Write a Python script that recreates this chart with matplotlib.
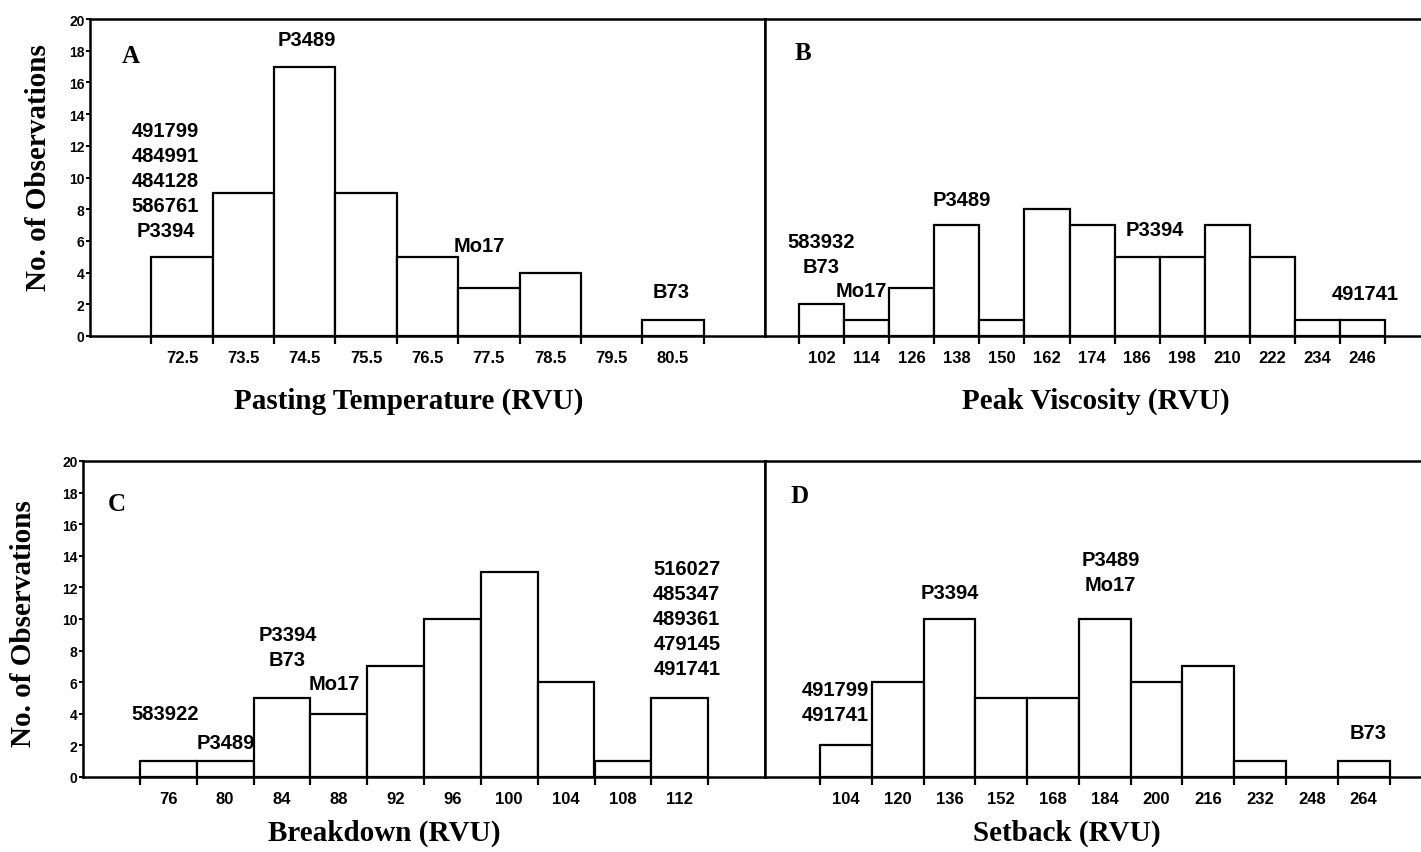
import matplotlib.pyplot as plt
from matplotlib import font_manager

# histogram bins (centres) and counts
temp_bins = [72.5, 73.5, 74.5, 75.5, 76.5, 77.5, 78.5, 79.5, 80.5]
temp_counts = [5, 9, 17, 9, 5, 3, 4, 0, 1]

visc_bins = [102, 114, 126, 138, 150, 162, 174, 186, 198, 210, 222, 234, 246]
visc_counts = [2, 1, 3, 7, 1, 8, 7, 5, 5, 7, 5, 1, 1]

brk_bins = [76, 80, 84, 88, 92, 96, 100, 104, 108, 112]
brk_counts = [1, 1, 5, 4, 7, 10, 13, 6, 1, 5]

setb_bins = [104, 120, 136, 152, 168, 184, 200, 216, 232, 248, 264]
setb_counts = [2, 6, 10, 5, 5, 10, 6, 7, 1, 0, 1]

# genotype labels written in each panel
temp_notes = ["491799\n484991\n484128\n586761\nP3394", "P3489", "Mo17", "B73"]
visc_notes = ["583932\nB73", "Mo17", "P3489", "P3394", "491741"]
brk_notes = ["583922", "P3489", "P3394\nB73", "Mo17",
             "516027\n485347\n489361\n479145\n491741"]
setb_notes = ["491799\n491741", "P3394", "P3489\nMo17", "B73"]

names = {f.name for f in font_manager.fontManager.ttflist}
narrow = "Liberation Sans Narrow" if "Liberation Sans Narrow" in names else "Liberation Sans"
serif = "Liberation Serif"

W, H = 1421, 853
fig = plt.figure(figsize=(W / 100, H / 100), dpi=100)


def box(l, r, t, b):
    return [l / W, 1 - b / H, (r - l) / W, (b - t) / H]


def hist(ax, bins, counts, width, xlim, fmt):
    ax.bar(bins, counts, width=width, facecolor="white", edgecolor="black",
           linewidth=1.6, zorder=3)
    ax.set_xlim(*xlim)
    ax.set_ylim(0, 20)
    edges = [b - width / 2 for b in bins] + [bins[-1] + width / 2]
    ax.set_xticks(edges)
    ax.set_xticklabels([])
    ax.set_xticks(bins, minor=True)
    ax.set_xticklabels([fmt(b) for b in bins], minor=True,
                       family=narrow, fontweight="bold", fontsize=12)
    ax.tick_params(axis="x", which="major", direction="out", length=6, width=1.6)
    ax.tick_params(axis="x", which="minor", length=0, pad=10)
    for s in ax.spines.values():
        s.set_linewidth(1.8)


def yaxis(ax, show, lx, ly):
    ax.set_yticks(range(0, 21, 2))
    if show:
        ax.set_yticklabels([str(v) for v in range(0, 21, 2)], family=narrow,
                           fontweight="bold", fontsize=10)
        ax.tick_params(axis="y", direction="out", length=3, width=1.4, pad=1)
        ax.set_ylabel("No. of Observations", family=serif, fontweight="bold",
                      fontsize=21)
        ax.yaxis.set_label_coords(lx, ly)
    else:
        ax.set_yticklabels([])
        ax.tick_params(axis="y", length=0)


def xlabel(ax, s, lx, ly):
    ax.set_xlabel(s, family=serif, fontweight="bold", fontsize=21)
    ax.xaxis.set_label_coords(lx, ly)


def note(ax, x, y, s):
    ax.text(x, y, s, ha="center", va="center", family=narrow, fontweight="bold",
            fontsize=14.5, linespacing=1.4, zorder=4)


def letter(ax, x, y, s):
    ax.text(x, y, s, ha="center", va="center", family=serif, fontweight="bold",
            fontsize=18)


# A: pasting temperature
axA = fig.add_axes(box(90, 765, 20, 337))
hist(axA, temp_bins, temp_counts, 1, (71, 82), lambda v: f"{v:.1f}")
yaxis(axA, True, -0.056, 0.536)
xlabel(axA, "Pasting Temperature (RVU)", 0.472, -0.16)
letter(axA, 71.67, 17.7, "A")
note(axA, 72.23, 9.8, temp_notes[0])
note(axA, 74.53, 18.7, temp_notes[1])
note(axA, 77.35, 5.7, temp_notes[2])
note(axA, 80.47, 2.8, temp_notes[3])

# B: peak viscosity
axB = fig.add_axes(box(765, 1421, 20, 337))
hist(axB, visc_bins, visc_counts, 12, (86.9, 261.6), lambda v: str(v))
yaxis(axB, False, 0, 0)
axB.spines["right"].set_visible(False)
xlabel(axB, "Peak Viscosity (RVU)", 0.505, -0.16)
letter(axB, 97, 17.9, "B")
note(axB, 101.9, 5.2, visc_notes[0])
note(axB, 112.5, 2.9, visc_notes[1])
note(axB, 139.2, 8.6, visc_notes[2])
note(axB, 190.7, 6.7, visc_notes[3])
note(axB, 246.7, 2.7, visc_notes[4])

# C: breakdown
axC = fig.add_axes(box(83, 765, 462, 778))
hist(axC, brk_bins, brk_counts, 4, (70, 118), lambda v: str(v))
yaxis(axC, True, -0.067, 0.49)
xlabel(axC, "Breakdown (RVU)", 0.441, -0.133)
letter(axC, 72.4, 17.3, "C")
note(axC, 75.8, 4.0, brk_notes[0])
note(axC, 80.05, 2.2, brk_notes[1])
note(axC, 84.4, 8.2, brk_notes[2])
note(axC, 87.7, 5.9, brk_notes[3])
note(axC, 112.5, 10.06, brk_notes[4])

# D: setback
axD = fig.add_axes(box(765, 1421, 462, 778))
hist(axD, setb_bins, setb_counts, 16, (79, 281.7), lambda v: str(v))
yaxis(axD, False, 0, 0)
axD.spines["right"].set_visible(False)
xlabel(axD, "Setback (RVU)", 0.46, -0.133)
letter(axD, 89.8, 17.8, "D")
note(axD, 100.6, 4.75, setb_notes[0])
note(axD, 136, 11.7, setb_notes[1])
note(axD, 185.8, 13.0, setb_notes[2])
note(axD, 265.3, 2.8, setb_notes[3])

fig.savefig("out.png", dpi=100)
